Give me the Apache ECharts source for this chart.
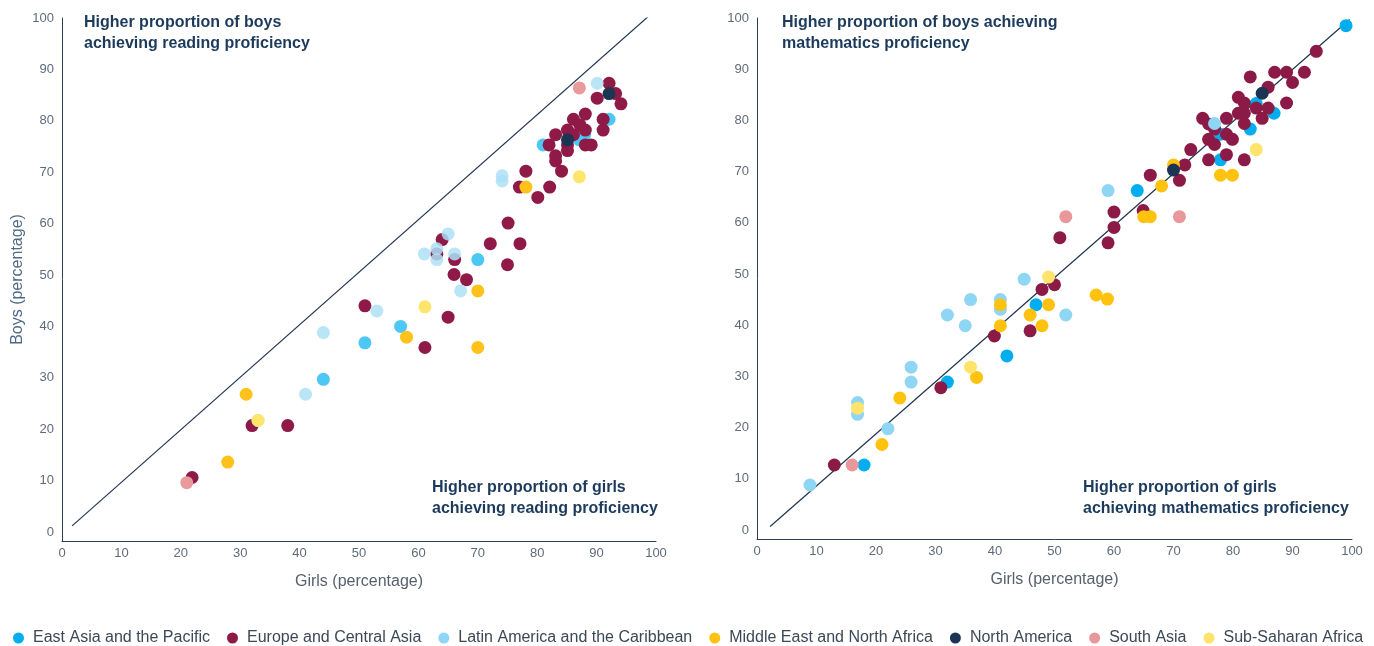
<!DOCTYPE html>
<html>
<head>
<meta charset="utf-8">
<script src="https://cdn.jsdelivr.net/npm/echarts@6/dist/echarts.min.js"></script>
<style>
  html, body { margin: 0; padding: 0; background: #fff; }
  #chart { width: 1374px; height: 646px; }
</style>
</head>
<body>
<div id="chart"></div>
<script>
// regions and their colours
const regions = [
  'East Asia and the Pacific',
  'Europe and Central Asia',
  'Latin America and the Caribbean',
  'Middle East and North Africa',
  'North America',
  'South Asia',
  'Sub-Saharan Africa'
]
const colors = ['#00aeef', '#8b1a47', '#8fd6f5', '#ffc20e', '#1b3553', '#e8989a', '#ffe36b']
// reading panel is drawn a little paler
const readColors = ['#4dc7f3', '#8f1a48', '#aee0f6', '#ffc21a', '#1b3553', '#e99a9c', '#ffe56b']

const tickValues = [0, 10, 20, 30, 40, 50, 60, 70, 80, 90, 100]

// reading: [girls, boys]
const readEastAsia = [[57, 40], [51, 36.8], [44, 29.7], [70, 53], [92.1, 80.3], [88, 77.3], [87.1, 76.3], [81, 75.3]]
const readEurope = [[51, 44], [32, 20.7], [38, 20.7], [21.9, 10.6], [66.1, 53], [75, 52], [66, 50.1], [68.1, 49.1],
  [65, 41.8], [61.1, 35.9], [92.1, 87.3], [93.2, 85.3], [90.1, 84.4], [94.1, 83.3], [88.1, 81.3], [86.1, 80.3],
  [91.1, 80.3], [87.2, 79.2], [85.1, 78.2], [88.1, 78.2], [91.1, 78.2], [83.1, 77.3], [86.1, 77.3], [82, 75.3],
  [88.1, 75.3], [89.1, 75.3], [85.1, 75.3], [85.1, 74.2], [83.1, 73.2], [83.1, 72.2], [84.1, 70.2], [78.1, 70.2],
  [77, 67.1], [82.1, 67.1], [80.1, 65.1], [75.1, 60.1], [64, 56.9], [72.1, 56.1], [77.1, 56.1], [63.1, 54.1]]
const readLatin = [[53, 43], [44, 38.8], [41, 26.8], [67.1, 46.9], [90.1, 87.3], [74.1, 69.3], [74.1, 68.3], [65, 58],
  [61, 54.1], [63.1, 55.1], [63.1, 53], [66.1, 54.1], [33, 21.7]]
const readMena = [[31, 26.8], [27.9, 13.6], [70, 46.9], [58, 37.9], [70, 35.9], [78.1, 67.1]]
const readNorthAm = [[92.1, 85.3], [85.1, 76.3]]
const readSouthAsia = [[21, 9.6], [87.1, 86.4]]
const readSsa = [[61.1, 43.8], [87.1, 69.1], [33, 21.7]]

// mathematics: [girls, boys]
const mathEastAsia = [[99, 98.5], [83.9, 83.3], [86.9, 81.4], [82.9, 78.3], [77.9, 77.3], [77.9, 72.3], [63.9, 66.3],
  [46.9, 44], [42, 34], [32, 28.9], [18, 12.7]]
const mathEurope = [[94, 93.5], [82.9, 88.5], [87, 89.4], [89, 89.4], [92, 89.4], [90, 87.4], [85.9, 86.5], [80.9, 84.5],
  [81.9, 83.4], [89, 83.4], [85.9, 82.4], [83.9, 82.4], [80.9, 81.4], [81.9, 81.4], [84.9, 80.4], [74.9, 80.4],
  [78.9, 80.4], [75.9, 79.3], [81.9, 79.4], [76.9, 78.3], [78.9, 77.3], [79.9, 76.3], [75.9, 76.3], [76.9, 75.3],
  [72.9, 74.3], [78.9, 73.3], [75.9, 72.3], [81.9, 72.3], [71.9, 71.3], [71, 68.3], [66.1, 69.3], [60, 62.1],
  [64.9, 62.4], [60, 59.1], [50.9, 57.1], [59, 56.1], [47.9, 47], [50, 47.9], [45.9, 38.9], [39.9, 37.9],
  [30.9, 27.8], [13, 12.7]]
const mathLatin = [[76.9, 79.4], [59, 66.3], [44.9, 49], [51.9, 42], [35.9, 45], [40.9, 45], [40.9, 43.1], [32, 42],
  [35, 39.9], [25.9, 31.8], [25.9, 28.9], [16.9, 24.9], [16.9, 22.6], [22, 19.8], [8.9, 8.8]]
const mathMena = [[70, 71.3], [77.9, 69.3], [79.9, 69.3], [68, 67.2], [65, 61.2], [66.1, 61.2], [57, 45.9], [58.9, 45.1],
  [49, 44], [45.9, 42], [47.9, 39.9], [40.9, 44], [40.9, 39.9], [36.9, 29.8], [24, 25.8], [21, 16.7]]
const mathNorthAm = [[84.9, 85.3], [70, 70.3]]
const mathSouthAsia = [[51.9, 61.2], [71, 61.2], [16, 12.7]]
const mathSsa = [[83.9, 74.3], [49, 49.4], [35.9, 31.8], [16.9, 23.8]]

// parity lines
const readParity = [[1.7, 1.2], [98.8, 100.4]]
const mathParity = [[2.2, 0.7], [99.6, 99.7]]

const readData = [readEastAsia, readEurope, readLatin, readMena, readNorthAm, readSouthAsia, readSsa]
const mathData = [mathEastAsia, mathEurope, mathLatin, mathMena, mathNorthAm, mathSouthAsia, mathSsa]

const font = "'Liberation Sans', Arial, sans-serif"
const axisColor = '#2c3e55'
const labelColor = '#5f6b78'
const noteColor = '#1b3a5c'

function xAxisFor(idx) {
  return {
    gridIndex: idx,
    type: 'value',
    min: 0,
    max: 100,
    interval: 10,
    name: 'Girls (percentage)',
    nameLocation: 'middle',
    nameGap: 33,
    nameTextStyle: { color: '#56616d', fontSize: 16, fontFamily: font },
    axisLine: { onZero: false, lineStyle: { color: axisColor, width: 1 } },
    axisTick: { show: false },
    splitLine: { show: false },
    axisLabel: { color: labelColor, fontSize: 13, fontFamily: font, margin: 6 }
  }
}

function yAxisFor(idx, withName) {
  return {
    gridIndex: idx,
    type: 'value',
    min: -1.75,
    max: 100,
    name: withName ? 'Boys (percentage)' : '',
    nameLocation: 'middle',
    nameGap: 36,
    nameTextStyle: { color: '#4f6a86', fontSize: 16, fontFamily: font },
    axisLine: { show: true, onZero: false, lineStyle: { color: axisColor, width: 1 } },
    axisTick: { show: false },
    splitLine: { show: false },
    axisLabel: { color: labelColor, fontSize: 13, fontFamily: font, margin: 8, customValues: tickValues }
  }
}

const series = []
function addPanel(idx, panelData, panelColors, parity) {
  panelData.forEach((pts, i) => {
    series.push({
      name: regions[i],
      type: 'scatter',
      xAxisIndex: idx,
      yAxisIndex: idx,
      symbolSize: 13,
      itemStyle: { color: panelColors[i], opacity: i === 2 && idx === 0 ? 0.85 : 1 },
      data: pts
    })
  })
  series.push({
    type: 'line',
    xAxisIndex: idx,
    yAxisIndex: idx,
    symbol: 'none',
    silent: true,
    z: 1,
    lineStyle: { color: '#1f3550', width: 1.2 },
    data: parity
  })
}
// maths first so the legend takes its colours
addPanel(1, mathData, colors, mathParity)
addPanel(0, readData, readColors, readParity)

function note(left, top, text) {
  return {
    type: 'text',
    left: left,
    top: top,
    style: {
      text: text,
      fill: noteColor,
      font: 'bold 16px ' + font,
      lineHeight: 21
    }
  }
}

const chart = echarts.init(document.getElementById('chart'), null, { renderer: 'canvas' })
chart.setOption({
  animation: false,
  grid: [
    { left: 62, top: 18, width: 594, height: 523 },
    { left: 757, top: 18, width: 595, height: 521 }
  ],
  xAxis: [xAxisFor(0), xAxisFor(1)],
  yAxis: [yAxisFor(0, true), yAxisFor(1, false)],
  legend: {
    data: regions,
    left: 8,
    top: 625,
    icon: 'circle',
    itemWidth: 11,
    itemHeight: 11,
    itemGap: 17,
    textStyle: { color: '#3b4856', fontSize: 16, fontFamily: font, padding: [0, 0, 0, 4] }
  },
  graphic: [
    note(84, 12, 'Higher proportion of boys\nachieving reading proficiency'),
    note(432, 477, 'Higher proportion of girls\nachieving reading proficiency'),
    note(782, 12, 'Higher proportion of boys achieving\nmathematics proficiency'),
    note(1083, 477, 'Higher proportion of girls\nachieving mathematics proficiency')
  ],
  series: series
})
</script>
</body>
</html>
